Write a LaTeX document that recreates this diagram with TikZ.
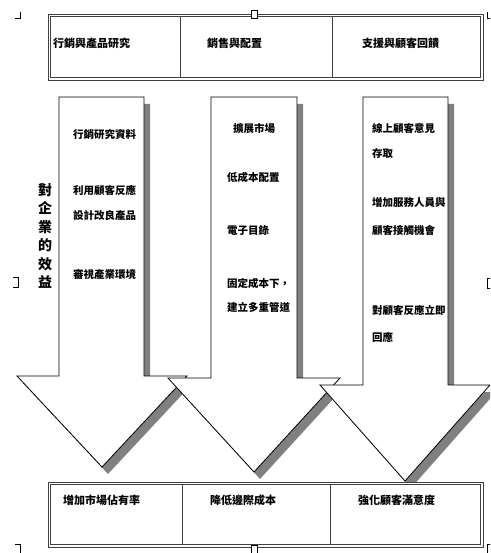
\documentclass[tikz,border=0pt]{standalone}
\usepackage{fontspec}
\newfontfamily\cjk{Noto Sans CJK TC}
\newcommand\myarrow[7]{%
  % #1 shaft left, #2 shaft right, #3 top, #4 shaft bottom, #5 left wing, #6 right wing, #7 tip y
  \fill[arrowshadow,shift={(6,7)}] (#1,#3) -- (#2,#3) -- (#2,#4) -- (#6,#4) -- ({(#5+#6)/2},#7) -- (#5,#4) -- (#1,#4) -- cycle;
  \draw[arrowbody] (#1,#3) -- (#2,#3) -- (#2,#4) -- (#6,#4) -- ({(#5+#6)/2},#7) -- (#5,#4) -- (#1,#4) -- cycle;
}
\begin{document}
\begin{tikzpicture}[x=1pt,y=-1pt,
  txt/.style={font=\cjk\bfseries\fontsize{10.5}{12}\selectfont, anchor=west, inner sep=0pt},
  hdr/.style={font=\cjk\bfseries\fontsize{11}{13}\selectfont, anchor=west, inner sep=0pt},
  vtxt/.style={font=\cjk\bfseries\fontsize{14}{18.4}\selectfont, align=center, inner sep=0pt},
  arrowbody/.style={draw=black, line width=0.8pt, fill=white, line join=miter},
  arrowshadow/.style={fill=black!50},
  frame/.style={draw=black!75, line width=0.8pt},
  handle/.style={draw=black, line width=0.8pt}]
\useasboundingbox (0,0) rectangle (490,553);
\clip (0,0) rectangle (490,553);

% arrows (left to right, each above the previous)
\myarrow{59}{144}{97}{376}{17}{187}{467}
\myarrow{211}{297}{97}{378}{168}{340}{472}
\myarrow{363}{448}{97}{385}{320}{490}{481}

% top table
\draw[frame, fill=white] (48,14) rectangle (483,80);
\draw[frame] (50.5,16.5) rectangle (480.5,77.5);
\draw[frame] (180,16.5) -- (180,77.5);
\draw[frame] (332,16.5) -- (332,77.5);
\node[hdr] (h1) at (53,43) {行銷與產品研究};
\node[hdr] (h2) at (207,43) {銷售與配置};
\node[hdr] (h3) at (362,43) {支援與顧客回饋};

% bottom table
\draw[frame, fill=white] (48,482) rectangle (483,547);
\draw[frame] (50.5,484.5) rectangle (480.5,544.5);
\draw[frame] (182,484.5) -- (182,544.5);
\draw[frame] (330,484.5) -- (330,544.5);
\node[hdr] (b1) at (63,500) {增加市場佔有率};
\node[hdr] (b2) at (210,500) {降低邊際成本};
\node[hdr] (b3) at (358,500) {強化顧客滿意度};

% vertical label
\node[vtxt] (v) at (45,236) {對\\企\\業\\的\\效\\益};

% left arrow texts
\node[txt] (l1) at (73,135) {行銷研究資料};
\node[txt] (l2) at (73,190) {利用顧客反應};
\node[txt] (l3) at (73,216) {設計改良產品};
\node[txt] (l4) at (73,275) {審視產業環境};

% middle arrow texts
\node[txt] (m1) at (233,128) {擴展市場};
\node[txt] (m2) at (227,177) {低成本配置};
\node[txt] (m3) at (227,230) {電子目錄};
\node[txt] (m4) at (227,283) {固定成本下，};
\node[txt] (m5) at (227,307) {建立多重管道};

% right arrow texts
\node[txt] (r1) at (372,128) {線上顧客意見};
\node[txt] (r2) at (372,154) {存取};
\node[txt] (r3) at (372,202) {增加服務人員與};
\node[txt] (r4) at (372,230) {顧客接觸機會};
\node[txt] (r5) at (372,310) {對顧客反應立即};
\node[txt] (r6) at (372,337) {回應};

% canvas handles
\draw[handle] (15,18) -- (20,18) -- (20,12);
\draw[handle] (487,12) -- (487,18) -- (491,18);
\draw[handle, fill=white] (251,10) rectangle (257,18);
\draw[handle] (13,277) -- (18,277) -- (18,287) -- (13,287);
\draw[handle] (491,278) -- (487,278) -- (487,288) -- (491,288);
\draw[handle] (15,544) -- (20,544) -- (20,553);
\draw[handle] (491,544) -- (487,544) -- (487,553);
\draw[handle, fill=white] (251,545) rectangle (257,553);
\end{tikzpicture}
\end{document}
